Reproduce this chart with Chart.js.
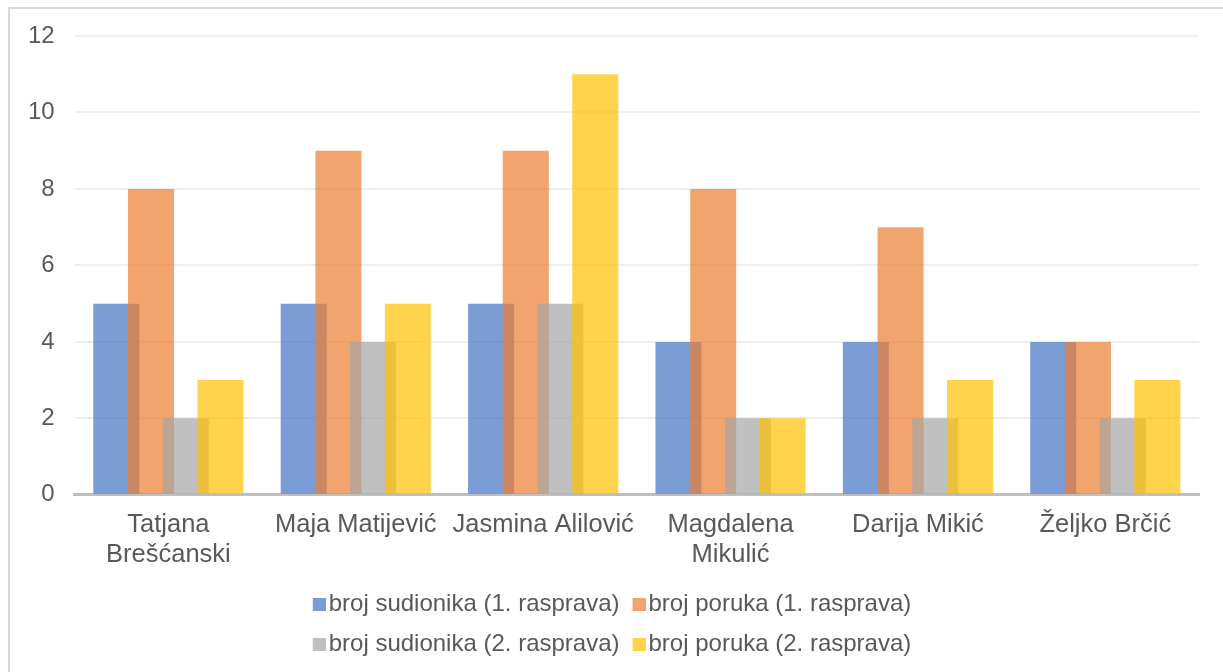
<!DOCTYPE html>
<html>
<head>
<meta charset="utf-8">
<script src="https://cdn.jsdelivr.net/npm/chart.js@4.4.1/dist/chart.umd.min.js"></script>
<style>
  html, body { margin: 0; padding: 0; background: #ffffff; overflow: hidden; }
  #frame { position: absolute; left: 8px; top: 7px; width: 1300px; height: 720px; border: 2px solid #d9d9d9; box-sizing: border-box; }
  #wrap { position: absolute; left: 8px; top: 9px; width: 1215px; height: 666px; }
</style>
</head>
<body>
<div id="frame"></div>
<div id="wrap"><canvas id="c"></canvas></div>
<script>
const categories = [
  ['Tatjana', 'Brešćanski'],
  'Maja Matijević',
  'Jasmina Alilović',
  ['Magdalena', 'Mikulić'],
  'Darija Mikić',
  'Željko Brčić'
];
const seriesNames = [
  'broj sudionika (1. rasprava)',
  'broj poruka (1. rasprava)',
  'broj sudionika (2. rasprava)',
  'broj poruka (2. rasprava)'
];
const sudionici1 = [5, 5, 5, 4, 4, 4];
const poruke1 = [8, 9, 9, 8, 7, 4];
const sudionici2 = [2, 4, 5, 2, 2, 2];
const poruke2 = [3, 5, 11, 2, 3, 3];
const yTicks = [0, 2, 4, 6, 8, 10, 12];

const colors = [
  'rgba(68,114,196,0.7)',
  'rgba(237,125,49,0.7)',
  'rgba(165,165,165,0.7)',
  'rgba(255,192,0,0.7)'
];
const values = [sudionici1, poruke1, sudionici2, poruke2];

// legend marker: a small square placed close to its text
function legendMarker(color) {
  const c = document.createElement('canvas');
  c.width = 19; c.height = 13;
  const g = c.getContext('2d');
  g.fillStyle = color;
  g.fillRect(6, 0, 13, 13);
  return c;
}
const markers = colors.map(legendMarker);

const layoutTweaks = {
  id: 'layoutTweaks',
  beforeLayout(chart) {
    const lg = chart.legend;
    if (lg && !lg._patchedRows) {
      const orig = Object.getPrototypeOf(lg)._fitRows;
      lg._fitRows = function (...args) {
        const mw = this.maxWidth;
        this.maxWidth = 700; // two legend items per row
        const r = orig.apply(this, args);
        this.maxWidth = mw;
        return r;
      };
      lg._patchedRows = true;
    }
  },
  afterLayout(chart) {
    const lg = chart.legend;
    if (lg) { lg.top -= 9; lg.bottom -= 9; lg.left += 10; lg.right += 10; }
  },
  // draw datasets in index order so later series sit on top
  beforeDatasetsDraw(chart) {
    const area = chart.chartArea;
    const ctx = chart.ctx;
    ctx.save();
    ctx.beginPath();
    ctx.rect(area.left, area.top - 2, area.right - area.left, area.bottom - area.top + 2);
    ctx.clip();
    for (let i = 0; i < chart.data.datasets.length; i++) {
      chart.getDatasetMeta(i).controller.draw();
    }
    ctx.restore();
    return false;
  }
};

const TXT = '#595959';
const FONT = "'Liberation Sans', Arial, sans-serif";

new Chart(document.getElementById('c'), {
  type: 'bar',
  data: {
    labels: categories,
    datasets: values.map((v, i) => ({
      label: seriesNames[i],
      data: v,
      backgroundColor: colors[i],
      borderWidth: 0,
      categoryPercentage: 0.741,
      barPercentage: 1.326
    }))
  },
  options: {
    responsive: true,
    maintainAspectRatio: false,
    animation: false,
    layout: { padding: { top: 27, left: 0, right: 24, bottom: 0 } },
    scales: {
      x: {
        grid: { display: false, drawTicks: false },
        border: { display: true, color: '#bfbfbf', width: 3 },
        ticks: { color: TXT, font: { family: FONT, size: 25.5, lineHeight: 1.18 }, padding: 15, maxRotation: 0, autoSkip: false }
      },
      y: {
        min: 0, max: 12,
        afterBuildTicks(scale) { scale.ticks = yTicks.map(v => ({ value: v })); },
        afterFit(scale) { scale.paddingTop = 0; scale.paddingBottom = 0; },
        grid: { color: '#eeeeee', lineWidth: 2, drawTicks: false },
        border: { display: false },
        ticks: { color: TXT, font: { family: FONT, size: 24 }, padding: 20 }
      }
    },
    plugins: {
      legend: {
        position: 'bottom',
        labels: {
          color: TXT,
          font: { family: FONT, size: 24 },
          usePointStyle: true,
          pointStyleWidth: 1,
          boxHeight: 13,
          padding: 16,
          generateLabels(chart) {
            const items = Chart.defaults.plugins.legend.labels.generateLabels(chart);
            items.forEach((it) => { it.pointStyle = markers[it.datasetIndex]; });
            return items;
          }
        }
      },
      tooltip: { enabled: false }
    }
  },
  plugins: [layoutTweaks]
});
</script>
</body>
</html>
